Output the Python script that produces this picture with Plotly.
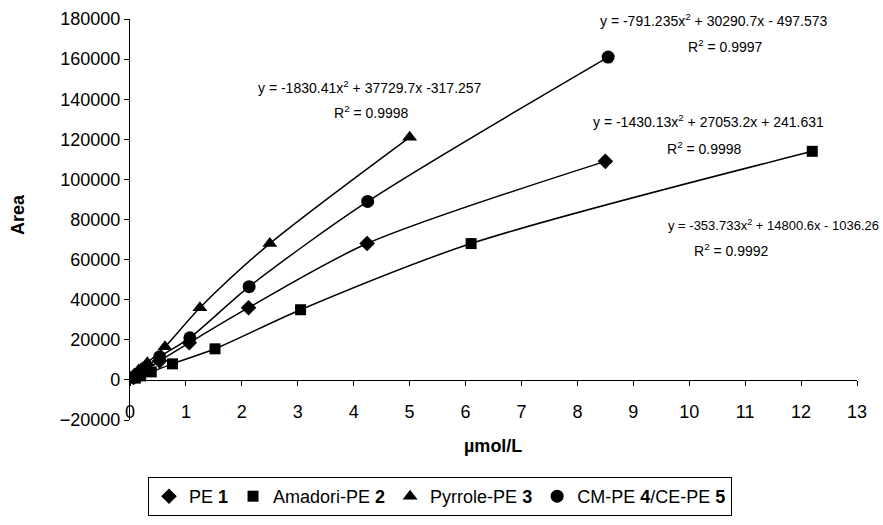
import plotly.graph_objects as go

# PE 1 (diamond)
pe1_x = [0.066, 0.13, 0.27, 0.53, 1.06, 2.12, 4.24, 8.5]
pe1_y = [1200, 2400, 4800, 9500, 18500, 36000, 68000, 109000]
# Amadori-PE 2 (square)
ama_x = [0.095, 0.19, 0.38, 0.76, 1.52, 3.05, 6.1, 12.2]
ama_y = [900, 2000, 4000, 8000, 15500, 35000, 68000, 114000]
# Pyrrole-PE 3 (triangle)
pyr_x = [0.078, 0.156, 0.31, 0.625, 1.25, 2.5, 5.0]
pyr_y = [2800, 5000, 8500, 16500, 36000, 68000, 121000]
# CM-PE 4 / CE-PE 5 (circle)
cm_x = [0.067, 0.134, 0.27, 0.53, 1.07, 2.13, 4.25, 8.55]
cm_y = [1500, 3000, 6000, 11500, 21000, 46500, 89000, 161000]

series = [
    ("PE <b>1</b>", pe1_x, pe1_y, "diamond", 12),
    ("Amadori-PE <b>2</b>", ama_x, ama_y, "square", 11),
    ("Pyrrole-PE <b>3</b>", pyr_x, pyr_y, "triangle-up", 13),
    ("CM-PE <b>4</b>/CE-PE <b>5</b>", cm_x, cm_y, "circle", 13),
]

equations = [
    ("y = -791.235x<sup>2</sup> + 30290.7x - 497.573", 714, 20, "center", 14),
    ("R<sup>2</sup> = 0.9997", 725, 46, "center", 14),
    ("y = -1830.41x<sup>2</sup> + 37729.7x -317.257", 370, 87, "center", 14),
    ("R<sup>2</sup> = 0.9998", 371, 112, "center", 14),
    ("y = -1430.13x<sup>2</sup> + 27053.2x + 241.631", 708, 121, "center", 14),
    ("R<sup>2</sup> = 0.9998", 704, 148, "center", 14),
    ("y = -353.733x<sup>2</sup> + 14800.6x - 1036.26", 881, 225, "right", 13),
    ("R<sup>2</sup> = 0.9992", 731, 250, "center", 14),
]

fig = go.Figure()
for name, xs, ys, sym, sz in series:
    fig.add_trace(go.Scatter(x=[0] + xs, y=[0] + ys, mode="lines",
                             line=dict(color="black", width=1.5, shape="spline", smoothing=0.8),
                             showlegend=False, hoverinfo="skip"))
for name, xs, ys, sym, sz in series:
    fig.add_trace(go.Scatter(x=xs, y=ys, mode="markers", name=name,
                             marker=dict(symbol=sym, size=sz, color="black")))

W, H = 883, 525
L, R, T, B = 130, 26, 19, 105
pw, ph = W - L - R, H - T - B

anns = []
for txt, px, py, anc, fs in equations:
    anns.append(dict(text=txt, x=(px - L) / pw, y=1 - (py - T) / ph, xref="paper", yref="paper",
                     showarrow=False, xanchor=anc, yanchor="middle",
                     font=dict(size=fs, color="black", family="Liberation Sans, Arial")))
anns.append(dict(text="<b>µmol/L</b>", x=(493 - L) / pw, y=1 - (446 - T) / ph, xref="paper", yref="paper",
                 showarrow=False, xanchor="center", yanchor="middle", font=dict(size=18, color="black")))
anns.append(dict(text="<b>Area</b>", x=(18 - L) / pw, y=1 - (215 - T) / ph, xref="paper", yref="paper",
                 showarrow=False, xanchor="center", yanchor="middle", textangle=-90, font=dict(size=18, color="black")))

fig.update_layout(
    width=W, height=H,
    margin=dict(l=L, r=R, t=T, b=B, autoexpand=False),
    paper_bgcolor="white", plot_bgcolor="white",
    font=dict(family="Liberation Sans, Arial", color="black", size=18),
    xaxis=dict(range=[0, 13], dtick=1, tick0=0, showgrid=False, zeroline=False,
               showline=True, linecolor="black", linewidth=1.2,
               ticks="outside", ticklen=5, tickcolor="black",
               anchor="free", position=0.1, ticklabelstandoff=10, automargin=False,
               tickfont=dict(size=18)),
    yaxis=dict(range=[-20000, 180000], dtick=20000, tickformat="d", showgrid=False, zeroline=False,
               showline=True, linecolor="black", linewidth=1.2, automargin=False,
               ticks="outside", ticklen=5, tickcolor="black", tickfont=dict(size=18)),
    legend=dict(orientation="h", x=(440 - L) / pw, xanchor="center", y=1 - (477 - T) / ph, yanchor="top",
                bordercolor="black", borderwidth=1, font=dict(size=18), itemwidth=30,
                tracegroupgap=0),
    annotations=anns,
    showlegend=True,
)

fig.write_html("out.html", config={"displayModeBar": False},
               post_script="document.body.style.margin='0';")
